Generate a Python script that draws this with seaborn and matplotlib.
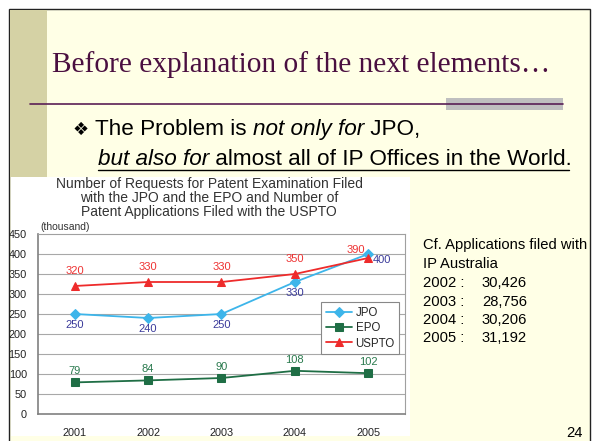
import matplotlib
matplotlib.use("Agg")
import matplotlib.pyplot as plt
from matplotlib.patches import Rectangle
from matplotlib.lines import Line2D
import seaborn as sns
import pandas as pd

# ---------------- data ----------------
years = ["2001", "2002", "2003", "2004", "2005"]
jpo = [250, 240, 250, 330, 400]
epo = [79, 84, 90, 108, 102]
uspto = [320, 330, 330, 350, 390]
y_ticks = [0, 50, 100, 150, 200, 250, 300, 350, 400, 450]
chart_title = ["Number of Requests for Patent Examination Filed",
               "with the JPO and the EPO and Number of",
               "Patent Applications Filed with the USPTO"]
aus_years = ["2002 :", "2003 :", "2004 :", "2005 :"]
aus_values = ["30,426", "28,756", "30,206", "31,192"]

sns.set_style("white")
plt.rcParams["font.family"] = ["Liberation Sans", "DejaVu Sans"]

W, H = 594, 441
fig = plt.figure(figsize=(W / 100, H / 100), dpi=100)
fig.patch.set_facecolor("white")


def fx(x):
    return x / W


def fy(y):
    return 1 - y / H


def rect(x0, y0, x1, y1, **kw):
    fig.patches.append(Rectangle((fx(x0), fy(y1)), fx(x1) - fx(x0), fy(y0) - fy(y1),
                                 transform=fig.transFigure, figure=fig, **kw))


def hline(x0, x1, y, **kw):
    fig.lines.append(Line2D([fx(x0), fx(x1)], [fy(y), fy(y)],
                            transform=fig.transFigure, figure=fig, **kw))


# slide background and frame
rect(9, 9, 590, 445, facecolor="#FFFFE6", edgecolor="#222222", linewidth=1.0, zorder=-3)
rect(10, 10, 47, 177, facecolor="#D5D2A5", edgecolor="none", zorder=-2.5)
# chart picture background
rect(11, 177, 410, 436, facecolor="white", edgecolor="none", zorder=-2)

# slide title and rule
fig.text(fx(52), fy(65), "Before explanation of the next elements\u2026",
         family="Liberation Serif", fontsize=21.2, color="#4A0F40",
         ha="left", va="center")
rect(446, 98, 563, 110, facecolor="#BFBFBF", edgecolor="none", zorder=1)
hline(30, 563, 103.5, color="#5A1F55", linewidth=1.2, zorder=2)

# bullet text
renderer = fig.canvas.get_renderer()


def seq_text(x, y, pieces, size):
    cx = x
    for s, style in pieces:
        t = fig.text(fx(cx), fy(y), s, fontsize=size, style=style, color="black",
                     ha="left", va="baseline")
        bb = t.get_window_extent(renderer)
        cx += bb.width
    return cx


fig.text(fx(72), fy(135), "\u2756", family="DejaVu Sans", fontsize=13,
         color="black", ha="left", va="baseline")
seq_text(95, 135, [("The Problem is ", "normal"), ("not only for", "italic"),
                   (" JPO,", "normal")], 16.2)
seq_text(98, 165, [("but also for", "italic"),
                   (" almost all of IP Offices in the World.", "normal")], 16.2)
hline(98, 569, 170, color="black", linewidth=1.0)

# ---------------- chart ----------------
ax = fig.add_axes([fx(38), fy(414), fx(405) - fx(38), fy(234) - fy(414)])
ax.set_zorder(3)
ax.set_facecolor("white")
x = list(range(len(years)))
df = pd.DataFrame({"x": x * 3, "value": jpo + epo + uspto,
                   "office": ["JPO"] * 5 + ["EPO"] * 5 + ["USPTO"] * 5})

styles = {"JPO": ("#3DB5EA", "D", 5), "EPO": ("#1F6E45", "s", 5.5), "USPTO": ("#EE2B2B", "^", 6)}
for name in ["JPO", "EPO", "USPTO"]:
    col, mk, ms = styles[name]
    sns.lineplot(data=df[df.office == name], x="x", y="value", color=col, marker=mk,
                 markersize=ms, markeredgecolor=col, linewidth=1.3, label=name,
                 ax=ax, zorder=3)

ax.set_xlim(-0.5, 4.5)
ax.set_ylim(0, 450)
ax.set_yticks(y_ticks)
ax.set_yticklabels([str(v) for v in y_ticks], fontsize=7.8, color="#222222")
ax.set_xticks(x)
ax.set_xticklabels(years, fontsize=7.8, color="#222222")
ax.set_xticks([0.5, 1.5, 2.5, 3.5], minor=True)
ax.tick_params(axis="x", which="major", length=0, pad=10)
ax.tick_params(axis="x", which="minor", length=4, direction="in", color="#888888")
ax.tick_params(axis="y", length=0, pad=8)
ax.set_xlabel("")
ax.set_ylabel("")
for v in y_ticks[1:-1]:
    ax.axhline(v, color="#A8A8A8", linewidth=0.8, zorder=1)
for side in ["top", "right"]:
    ax.spines[side].set_color("#A0A0A0")
    ax.spines[side].set_linewidth(0.8)
for side in ["left", "bottom"]:
    ax.spines[side].set_color("#808080")
    ax.spines[side].set_linewidth(1.2)

# data labels
for i, v in enumerate(uspto):
    if i == 4:
        ax.annotate(str(v), (i, v), xytext=(-9, 6), textcoords="offset points",
                    ha="center", va="center", fontsize=8, color="#EE3333")
    else:
        ax.annotate(str(v), (i, v), xytext=(0, 11), textcoords="offset points",
                    ha="center", va="center", fontsize=8, color="#EE3333")
for i, v in enumerate(jpo):
    if i == 4:
        ax.annotate(str(v), (i, v), xytext=(3, -4), textcoords="offset points",
                    ha="left", va="center", fontsize=8, color="#3A3A9A")
    else:
        ax.annotate(str(v), (i, v), xytext=(0, -8), textcoords="offset points",
                    ha="center", va="center", fontsize=8, color="#3A3A9A")
for i, v in enumerate(epo):
    ax.annotate(str(v), (i, v), xytext=(0, 8), textcoords="offset points",
                ha="center", va="center", fontsize=8, color="#2A7A4E")

handles, labels = ax.get_legend_handles_labels()
leg = ax.legend(handles, labels, loc="upper left", bbox_to_anchor=(fx(321), fy(302)),
                bbox_transform=fig.transFigure, borderaxespad=0, fontsize=8.3,
                handlelength=2.3, handletextpad=0.3, labelspacing=0.3,
                borderpad=0.4, fancybox=False, framealpha=1, edgecolor="#888888")
leg.get_frame().set_linewidth(0.8)
leg.set_zorder(5)

# chart title and unit
for k, line in enumerate(chart_title):
    fig.text(fx(209), fy(184 + 14 * k), line, fontsize=10, color="#333333",
             ha="center", va="center")
fig.text(fx(40), fy(227), "(thousand)", fontsize=7.5, color="#333333",
         ha="left", va="center")

# right-hand note
fs = 10.6
fig.text(fx(423), fy(245), "Cf. Applications filed with", fontsize=fs,
         color="black", ha="left", va="center")
fig.text(fx(423), fy(264), "IP Australia", fontsize=fs, color="black",
         ha="left", va="center")
for k, (yr, val) in enumerate(zip(aus_years, aus_values)):
    yy = 283 + 18.5 * k
    fig.text(fx(423), fy(yy), yr, fontsize=fs, color="black", ha="left", va="center")
    fig.text(fx(482), fy(yy), val, fontsize=fs, color="black", ha="left", va="center")
fig.text(fx(583), fy(433), "24", fontsize=fs, color="black", ha="right", va="center")

fig.savefig("out.png", dpi=100)
